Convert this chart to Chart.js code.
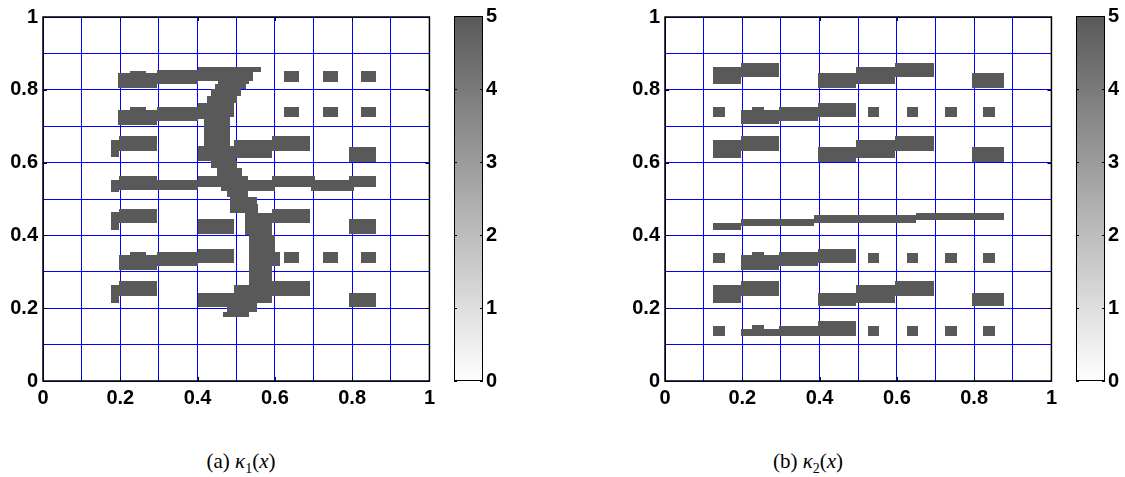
<!DOCTYPE html>
<html lang="en">
<head>
<meta charset="utf-8">
<title>kappa fields</title>
<script src="https://cdn.jsdelivr.net/npm/chart.js"></script>
<style>
body { margin: 0; background: #fff; width: 1125px; height: 477px; position: relative; overflow: hidden; }
canvas { position: absolute; top: 0; }
.cap { position: absolute; top: 449px; width: 200px; text-align: center;
       font-family: "Liberation Serif", "DejaVu Serif", serif; font-size: 21px; color: #000; }
.cap sub { font-size: 14px; }
</style>
</head>
<body>
<canvas id="plotA" width="440" height="410" style="left:0"></canvas>
<canvas id="barA" width="60" height="410" style="left:454px"></canvas>
<canvas id="plotB" width="440" height="410" style="left:622px"></canvas>
<canvas id="barB" width="60" height="410" style="left:1076px"></canvas>
<div class="cap" style="left:141px">(a) <i>κ</i><sub>1</sub>(<i>x</i>)</div>
<div class="cap" style="left:708px">(b) <i>κ</i><sub>2</sub>(<i>x</i>)</div>
<script>
// ticks
var axisTicks = [0, 0.2, 0.4, 0.6, 0.8, 1];
var gridStep = 0.1;
var cbTicks = [0, 1, 2, 3, 4, 5];

// cells: [x0, x1, y0, y1, value]
var cellsA = [
  // left bars
  [0.195,0.296,0.804,0.845,5], [0.225,0.266,0.845,0.852,5], [0.296,0.400,0.816,0.854,5],
  [0.195,0.296,0.704,0.744,5], [0.225,0.266,0.744,0.753,5], [0.296,0.400,0.713,0.753,5], [0.400,0.420,0.720,0.765,5],
  [0.177,0.196,0.615,0.663,5], [0.196,0.296,0.633,0.674,5], [0.400,0.500,0.604,0.645,5],
  [0.495,0.593,0.614,0.662,5], [0.593,0.692,0.633,0.674,5], [0.793,0.863,0.603,0.644,5],
  [0.177,0.196,0.520,0.553,5], [0.196,0.296,0.526,0.564,5], [0.296,0.400,0.525,0.551,5],
  [0.400,0.480,0.532,0.564,5], [0.480,0.600,0.523,0.553,5], [0.593,0.703,0.532,0.564,5],
  [0.694,0.804,0.523,0.551,5], [0.793,0.863,0.534,0.564,5],
  [0.177,0.196,0.414,0.464,5], [0.196,0.296,0.434,0.473,5], [0.400,0.495,0.403,0.444,5],
  [0.593,0.692,0.434,0.473,5], [0.793,0.863,0.403,0.444,5],
  [0.196,0.296,0.306,0.345,5], [0.225,0.266,0.345,0.354,5], [0.296,0.400,0.315,0.354,5],
  [0.400,0.495,0.324,0.364,5], [0.593,0.613,0.315,0.354,5],
  [0.624,0.662,0.324,0.354,5], [0.724,0.763,0.324,0.354,5], [0.822,0.863,0.324,0.354,5],
  [0.177,0.196,0.214,0.263,5], [0.196,0.296,0.233,0.274,5], [0.400,0.495,0.204,0.243,5],
  [0.593,0.692,0.233,0.274,5], [0.793,0.863,0.204,0.243,5],
  // small squares upper right
  [0.624,0.662,0.822,0.852,5], [0.724,0.763,0.822,0.852,5], [0.822,0.863,0.822,0.852,5],
  [0.624,0.662,0.724,0.753,5], [0.724,0.763,0.724,0.753,5], [0.822,0.863,0.724,0.753,5],
  // the curved stroke
  [0.400,0.564,0.848,0.864,5], [0.400,0.544,0.825,0.848,5], [0.454,0.533,0.816,0.825,5],
  [0.444,0.525,0.802,0.816,5], [0.434,0.513,0.784,0.802,5], [0.424,0.502,0.765,0.784,5],
  [0.416,0.495,0.724,0.765,5], [0.416,0.485,0.645,0.724,5], [0.416,0.497,0.605,0.645,5],
  [0.434,0.501,0.586,0.605,5], [0.450,0.514,0.564,0.586,5], [0.460,0.530,0.523,0.564,5],
  [0.475,0.531,0.505,0.523,5], [0.484,0.555,0.487,0.505,5], [0.485,0.557,0.462,0.487,5],
  [0.523,0.593,0.400,0.462,5], [0.533,0.600,0.337,0.400,5], [0.533,0.593,0.263,0.337,5],
  [0.495,0.593,0.222,0.263,5], [0.488,0.593,0.213,0.222,5], [0.484,0.555,0.204,0.213,5],
  [0.475,0.555,0.190,0.204,5], [0.465,0.533,0.176,0.190,5]
];

var cellsB = [
  [0.125,0.196,0.816,0.863,5], [0.196,0.295,0.834,0.874,5], [0.396,0.495,0.804,0.845,5],
  [0.495,0.596,0.816,0.863,5], [0.596,0.696,0.834,0.874,5], [0.794,0.876,0.804,0.845,5],
  [0.125,0.156,0.724,0.753,5], [0.196,0.295,0.706,0.744,5], [0.226,0.256,0.744,0.753,5],
  [0.295,0.396,0.713,0.753,5], [0.396,0.495,0.724,0.765,5],
  [0.526,0.554,0.724,0.753,5], [0.626,0.655,0.724,0.753,5], [0.724,0.755,0.724,0.753,5], [0.824,0.855,0.724,0.753,5],
  [0.125,0.196,0.614,0.662,5], [0.196,0.295,0.633,0.674,5], [0.396,0.495,0.603,0.644,5],
  [0.495,0.596,0.614,0.662,5], [0.596,0.696,0.633,0.674,5], [0.794,0.876,0.603,0.644,5],
  [0.125,0.196,0.414,0.434,5], [0.196,0.385,0.425,0.446,5], [0.385,0.650,0.434,0.455,5], [0.650,0.876,0.443,0.462,5],
  [0.125,0.156,0.324,0.352,5], [0.196,0.295,0.306,0.345,5], [0.226,0.256,0.345,0.354,5],
  [0.295,0.396,0.315,0.354,5], [0.396,0.495,0.324,0.364,5],
  [0.526,0.554,0.324,0.352,5], [0.626,0.655,0.324,0.352,5], [0.724,0.755,0.324,0.352,5], [0.824,0.855,0.324,0.352,5],
  [0.125,0.196,0.214,0.263,5], [0.196,0.295,0.233,0.274,5], [0.396,0.495,0.205,0.243,5],
  [0.495,0.596,0.214,0.263,5], [0.596,0.696,0.233,0.274,5], [0.794,0.876,0.205,0.243,5],
  [0.125,0.156,0.123,0.152,5], [0.196,0.295,0.123,0.144,5], [0.226,0.256,0.144,0.153,5],
  [0.295,0.396,0.125,0.152,5], [0.396,0.495,0.123,0.164,5],
  [0.526,0.554,0.123,0.152,5], [0.626,0.655,0.123,0.152,5], [0.724,0.755,0.123,0.152,5], [0.824,0.855,0.123,0.152,5]
];

var tickFont = { family: '"Liberation Sans", Arial, sans-serif', size: 20, weight: 'bold' };

function grayFor(v) {
  var g = Math.round(255 - (255 - 89) * (v / cbTicks[cbTicks.length - 1]));
  return 'rgb(' + g + ',' + g + ',' + g + ')';
}

function tickLabel(v) {
  var t = axisTicks.find(function (a) { return Math.abs(a - v) < 1e-6; });
  return t === undefined ? '' : String(t);
}

function cellPlugin(cells) {
  return {
    id: 'cells',
    beforeDatasetsDraw: function (chart) {
      var ctx = chart.ctx, x = chart.scales.x, y = chart.scales.y;
      ctx.save();
      cells.forEach(function (c) {
        // snap to whole pixels so neighbouring cells join without seams
        var l = Math.round(x.getPixelForValue(c[0])), r = Math.round(x.getPixelForValue(c[1]));
        var t = Math.round(y.getPixelForValue(c[3])), b = Math.round(y.getPixelForValue(c[2]));
        ctx.fillStyle = grayFor(c[4]);
        ctx.fillRect(l, t, r - l, b - t);
      });
      ctx.restore();
    }
  };
}

var framePlugin = {
  id: 'frame',
  afterDraw: function (chart) {
    var ctx = chart.ctx, a = chart.chartArea, x = chart.scales.x, y = chart.scales.y;
    ctx.save();
    ctx.strokeStyle = '#000';
    ctx.lineWidth = 1.5;
    ctx.strokeRect(a.left, a.top, a.right - a.left, a.bottom - a.top);
    ctx.lineWidth = 1;
    ctx.beginPath();
    axisTicks.forEach(function (v) {
      var px = Math.round(x.getPixelForValue(v)) + 0.5;
      var py = Math.round(y.getPixelForValue(v)) + 0.5;
      ctx.moveTo(px, a.bottom); ctx.lineTo(px, a.bottom - 4);
      ctx.moveTo(px, a.top); ctx.lineTo(px, a.top + 4);
      ctx.moveTo(a.left, py); ctx.lineTo(a.left + 4, py);
      ctx.moveTo(a.right, py); ctx.lineTo(a.right - 4, py);
    });
    ctx.stroke();
    ctx.restore();
  }
};

var barFrame = {
  id: 'barFrame',
  afterDraw: function (chart) {
    var ctx = chart.ctx, a = chart.chartArea, y = chart.scales.y;
    ctx.save();
    ctx.strokeStyle = '#000';
    ctx.lineWidth = 1;
    ctx.strokeRect(a.left + 0.5, a.top + 0.5, a.right - a.left - 1, a.bottom - a.top - 1);
    ctx.beginPath();
    cbTicks.forEach(function (v) {
      var py = Math.round(y.getPixelForValue(v)) + 0.5;
      ctx.moveTo(a.left, py); ctx.lineTo(a.left + 3, py);
      ctx.moveTo(a.right, py); ctx.lineTo(a.right - 3, py);
    });
    ctx.stroke();
    ctx.restore();
  }
};

function axisOpts(fit) {
  return {
    type: 'linear', min: 0, max: 1,
    afterFit: fit,
    ticks: { stepSize: gridStep, autoSkip: false, maxRotation: 0, padding: 5, color: '#000', font: tickFont, callback: tickLabel },
    grid: { color: '#0000ff', lineWidth: 1, drawTicks: false },
    border: { display: false }
  };
}

function plotChart(id, cells) {
  return new Chart(id, {
    type: 'scatter',
    data: { datasets: [{ data: [] }] },
    options: {
      responsive: false,
      animation: false,
      devicePixelRatio: 1,
      layout: { padding: { top: 16, right: 8, left: 0, bottom: 0 } },
      plugins: { legend: { display: false }, tooltip: { enabled: false } },
      scales: {
        x: axisOpts(function (s) { s.height = 29; }),
        y: axisOpts(function (s) { s.width = 43; })
      }
    },
    plugins: [cellPlugin(cells), framePlugin]
  });
}

function colorBar(id) {
  return new Chart(id, {
    type: 'bar',
    data: {
      labels: [''],
      datasets: [{
        data: [[cbTicks[0], cbTicks[cbTicks.length - 1]]],
        barPercentage: 1,
        categoryPercentage: 1,
        borderWidth: 0,
        backgroundColor: function (c) {
          var a = c.chart.chartArea;
          if (!a) return grayFor(5);
          var g = c.chart.ctx.createLinearGradient(0, a.bottom, 0, a.top);
          g.addColorStop(0, grayFor(cbTicks[0]));
          g.addColorStop(1, grayFor(cbTicks[cbTicks.length - 1]));
          return g;
        }
      }]
    },
    options: {
      responsive: false,
      animation: false,
      devicePixelRatio: 1,
      layout: { padding: { top: 16, bottom: 29, left: 0, right: 0 } },
      plugins: { legend: { display: false }, tooltip: { enabled: false } },
      scales: {
        x: { display: false },
        y: {
          position: 'right', min: 0, max: 5,
          afterFit: function (s) { s.width = 31; },
          ticks: { stepSize: 1, padding: 3, color: '#000', font: tickFont },
          grid: { display: false, drawTicks: false },
          border: { display: false }
        }
      }
    },
    plugins: [barFrame]
  });
}

plotChart('plotA', cellsA);
plotChart('plotB', cellsB);
colorBar('barA');
colorBar('barB');
</script>
</body>
</html>
